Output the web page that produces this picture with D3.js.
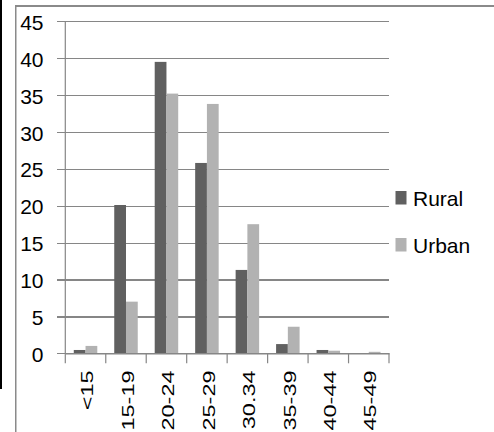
<!DOCTYPE html>
<html>
<head>
<meta charset="utf-8">
<script src="https://cdn.jsdelivr.net/npm/d3@7"></script>
<style>
  html, body { margin: 0; padding: 0; background: #fff; }
  svg { display: block; }
  text { font-family: "Liberation Sans", Arial, sans-serif; fill: #000; }
</style>
</head>
<body>
<svg id="chart" width="494" height="432"></svg>
<script>
// Age groups along the x axis
const categories = ["<15", "15-19", "20-24", "25-29", "30.34", "35-39", "40-44", "45-49"];
// Share (%) in each age group
const rural = [0.45, 20.1, 39.5, 25.8, 11.3, 1.25, 0.45, 0.0];
const urban = [1.0, 7.0, 35.2, 33.8, 17.5, 3.6, 0.35, 0.2];
const seriesNames = ["Rural", "Urban"];
const seriesColors = ["#606060", "#b2b2b2"];
const yTicks = [0, 5, 10, 15, 20, 25, 30, 35, 40, 45];

const svg = d3.select("#chart");
const W = 494, H = 432;
const plot = { left: 65.3, right: 389, top: 21.3, bottom: 353.3 };

// Frame lines around the chart area
svg.append("rect").attr("x", 0).attr("y", 0).attr("width", 2).attr("height", 389).attr("fill", "#000");
svg.append("rect").attr("x", 15).attr("y", 5).attr("width", 1.5).attr("height", H - 5).attr("fill", "#8a8a8a");
svg.append("rect").attr("x", 15).attr("y", 5).attr("width", W - 15).attr("height", 2).attr("fill", "#8a8a8a");

const x = d3.scaleBand().domain(categories).range([plot.left, plot.right]).paddingInner(0).paddingOuter(0);
const y = d3.scaleLinear().domain([0, 45]).range([plot.bottom, plot.top]);

// Horizontal gridlines with left tick marks
const yAxis = d3.axisLeft(y).tickValues(yTicks).tickSize(plot.right - plot.left + 8).tickFormat("");
const gy = svg.append("g").attr("transform", `translate(${plot.right},0)`).call(yAxis);
gy.select(".domain").remove();
gy.selectAll(".tick line").attr("stroke", "#868686").attr("stroke-width", 1.2).attr("shape-rendering", "crispEdges");

// Y tick labels
svg.append("g").selectAll("text").data(yTicks).join("text")
  .attr("x", 43.5)
  .attr("y", d => y(d) + 8.6)
  .attr("text-anchor", "end")
  .attr("font-size", 21)
  .text(d => d);

// Vertical axis line
svg.append("line")
  .attr("x1", plot.left).attr("x2", plot.left)
  .attr("y1", plot.top).attr("y2", plot.bottom)
  .attr("stroke", "#868686").attr("stroke-width", 1.2);

// Bars
const inner = d3.scaleBand().domain(seriesNames).range([0, 23.5]);
const offset = (x.bandwidth() - 23.5) / 2;
const rows = categories.map((c, i) => ({ cat: c, values: [rural[i], urban[i]] }));
const groups = svg.append("g").selectAll("g").data(rows).join("g")
  .attr("transform", d => `translate(${x(d.cat) + offset},0)`);
groups.selectAll("rect").data(d => d.values.map((v, k) => ({ v, k }))).join("rect")
  .attr("x", d => inner(seriesNames[d.k]))
  .attr("width", inner.bandwidth())
  .attr("y", d => y(d.v))
  .attr("height", d => y(0) - y(d.v))
  .attr("fill", d => seriesColors[d.k]);

// X axis line and tick marks
const xAxis = d3.axisBottom(x).tickSize(0).tickFormat("");
const gx = svg.append("g").attr("transform", `translate(0,${plot.bottom})`).call(xAxis);
gx.select(".domain").attr("stroke", "#868686").attr("stroke-width", 1.4);
const bounds = categories.map(c => x(c)).concat([plot.right]);
svg.append("g").selectAll("line").data(bounds).join("line")
  .attr("x1", d => d).attr("x2", d => d)
  .attr("y1", plot.bottom).attr("y2", plot.bottom + 10)
  .attr("stroke", "#868686").attr("stroke-width", 1.2);

// Rotated category labels (stretched along their length)
svg.append("g").selectAll("text").data(categories).join("text")
  .attr("transform", d => `translate(${x(d) + x.bandwidth() / 2 + 7.7},370.5) rotate(-90) scale(1.38,1)`)
  .attr("text-anchor", "end")
  .attr("font-size", 17)
  .text(d => d);

// Legend
const legend = svg.append("g").selectAll("g").data(seriesNames).join("g")
  .attr("transform", (d, i) => `translate(395.5,${191 + i * 47})`);
legend.append("rect").attr("width", 11).attr("height", 13.5).attr("fill", (d, i) => seriesColors[i]);
legend.append("text").attr("x", 17.5).attr("y", 14.5).attr("font-size", 21).text(d => d);
</script>
</body>
</html>
